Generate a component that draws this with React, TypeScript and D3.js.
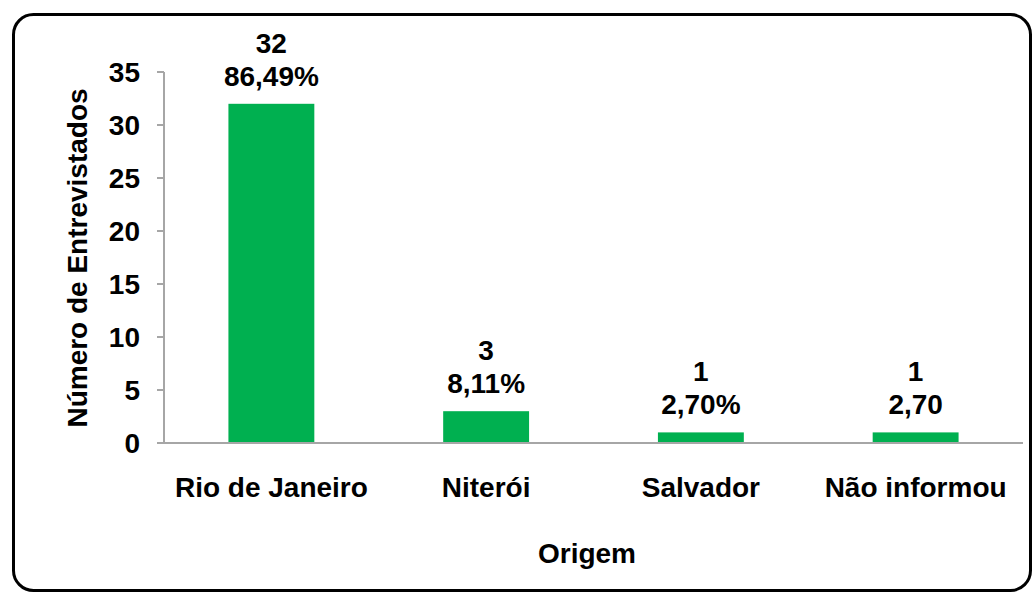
import React from "react";
import * as d3 from "d3";

const categories = ["Rio de Janeiro", "Niterói", "Salvador", "Não informou"];
const counts = [32, 3, 1, 1];
const percentLabels = ["86,49%", "8,11%", "2,70%", "2,70"];
const yTicks = [0, 5, 10, 15, 20, 25, 30, 35];
const yTitle = "Número de Entrevistados";
const xTitle = "Origem";

const W = 1032;
const H = 592;
const FONT = "'Liberation Sans', Arial, sans-serif";
const AXIS = "#A6A6A6";
const GREEN = "#00B050";

export default function App() {
  const x = d3
    .scaleBand<string>()
    .domain(categories)
    .range([164, 1023])
    .paddingInner(0.6)
    .paddingOuter(0.3);
  const y = d3.scaleLinear().domain([0, 35]).range([443, 72]);

  return (
    <svg
      width={W}
      height={H}
      style={{ position: "absolute", left: 0, top: 0, display: "block", background: "#fff" }}
      fontFamily={FONT}
    >
      <rect x={13.5} y={14.5} width={1017} height={576} rx={20} fill="#fff" stroke="#000" strokeWidth={3} />

      {/* y axis */}
      <line x1={164} x2={164} y1={y(35)} y2={y(0)} stroke={AXIS} strokeWidth={2} />
      {yTicks.map((t) => (
        <g key={t}>
          <line x1={157} x2={164} y1={y(t)} y2={y(t)} stroke={AXIS} strokeWidth={2} />
          <text
            x={140}
            y={y(t)}
            textAnchor="end"
            dominantBaseline="central"
            fontSize={28}
            fontWeight="bold"
            fill="#000"
          >
            {t}
          </text>
        </g>
      ))}

      {/* bars */}
      {categories.map((c, i) => (
        <rect
          key={c}
          x={x(c)}
          y={y(counts[i])}
          width={x.bandwidth()}
          height={y(0) - y(counts[i])}
          fill={GREEN}
        />
      ))}

      {/* x axis */}
      <line x1={157} x2={1023} y1={y(0)} y2={y(0)} stroke={AXIS} strokeWidth={2} />

      {/* data labels */}
      {categories.map((c, i) => {
        const cx = (x(c) as number) + x.bandwidth() / 2;
        const top = y(counts[i]);
        return (
          <g key={c} fontSize={28} fontWeight="bold" fill="#000" textAnchor="middle">
            <text x={cx} y={top - 51}>{counts[i]}</text>
            <text x={cx} y={top - 18}>{percentLabels[i]}</text>
          </g>
        );
      })}

      {/* category labels */}
      {categories.map((c) => (
        <text
          key={c}
          x={(x(c) as number) + x.bandwidth() / 2}
          y={497}
          textAnchor="middle"
          fontSize={28}
          fontWeight="bold"
          fill="#000"
        >
          {c}
        </text>
      ))}

      <text x={587} y={563} textAnchor="middle" fontSize={28} fontWeight="bold" fill="#000">
        {xTitle}
      </text>
      <text
        transform={`translate(87,258) rotate(-90)`}
        textAnchor="middle"
        fontSize={28}
        fontWeight="bold"
        fill="#000"
      >
        {yTitle}
      </text>
    </svg>
  );
}
